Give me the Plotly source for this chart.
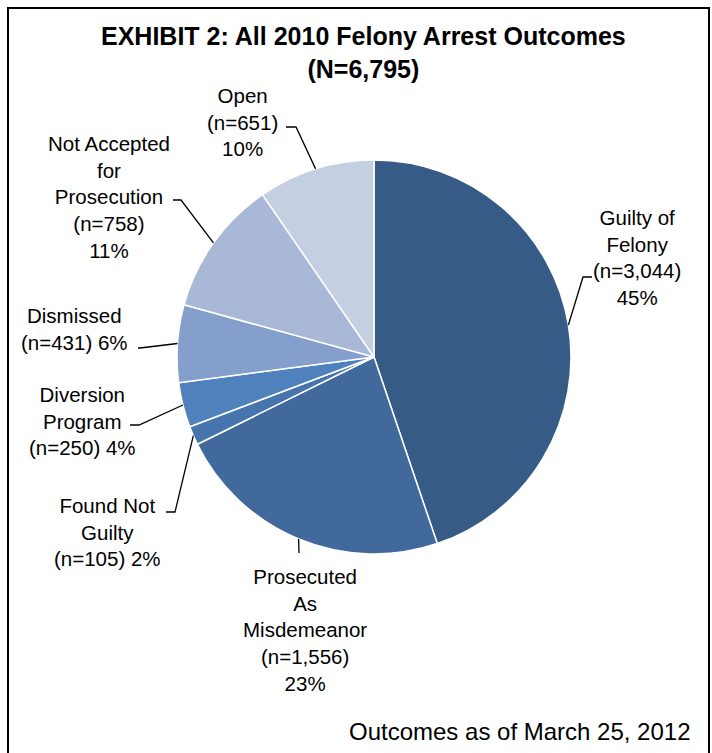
"""Exhibit 2: 2010 felony arrest outcomes pie."""

import math

import plotly.graph_objects as go

# data
outcomes = [
    "Guilty of Felony",
    "Prosecuted As Misdemeanor",
    "Found Not Guilty",
    "Diversion Program",
    "Dismissed",
    "Not Accepted for Prosecution",
    "Open",
]
counts = [3044, 1556, 105, 250, 431, 758, 651]
pct_labels = ["45%", "23%", "2%", "4%", "6%", "11%", "10%"]
label_text = [
    "Guilty of<br>Felony<br>(n=3,044)<br>45%",
    "Prosecuted<br>As<br>Misdemeanor<br>(n=1,556)<br>23%",
    "Found Not<br>Guilty<br>(n=105) 2%",
    "Diversion<br>Program<br>(n=250) 4%",
    "Dismissed<br>(n=431) 6%",
    "Not Accepted<br>for<br>Prosecution<br>(n=758)<br>11%",
    "Open<br>(n=651)<br>10%",
]
colors = ["#365B87", "#41699C", "#4674AC", "#4F81BD", "#849FCB", "#A9B8D6", "#C5CFE2"]

W, H = 712, 753
CX, CY, R = 374, 357, 197
FONT = "Liberation Sans, Arial, sans-serif"

# label placement (pixel): text center x, text top y, elbow point, end of leader
label_pos = [
    (637, 204, (583, 277), (592, 277)),
    (305, 563, (299, 553), (299, 553)),
    (107, 492, (175, 512), (166, 512)),
    (82, 381, (139, 425), (130, 425)),
    (74, 302, (140, 348), (138, 348)),
    (109, 130, (181, 200), (173, 200)),
    (243, 82, (296, 127), (286, 127)),
]


def px(x, y):
    return x / W, 1 - y / H


fig = go.Figure(
    go.Pie(
        labels=outcomes,
        values=counts,
        sort=False,
        direction="clockwise",
        rotation=0,
        marker=dict(colors=colors, line=dict(color="white", width=1.5)),
        textinfo="none",
        hoverinfo="label+value+percent",
        showlegend=False,
        domain=dict(
            x=[(CX - R) / W, (CX + R) / W],
            y=[1 - (CY + R) / H, 1 - (CY - R) / H],
        ),
    )
)

total = sum(counts)
cum = 0
annotations = []
shapes = []
for val, txt, (tx, ty, elbow, end) in zip(counts, label_text, label_pos):
    mid = (cum + val / 2) / total * 2 * math.pi
    cum += val
    sx = CX + R * math.sin(mid)
    sy = CY - R * math.cos(mid)
    pts = [px(sx, sy), px(*elbow), px(*end)]
    path = "M {} {} L {} {} L {} {}".format(*[c for p in pts for c in p])
    shapes.append(dict(type="path", xref="paper", yref="paper", path=path,
                       line=dict(color="black", width=1.3)))
    ax, ay = px(tx, ty)
    annotations.append(dict(x=ax, y=ay, xref="paper", yref="paper", text=txt,
                            showarrow=False, xanchor="center", yanchor="top",
                            align="center", font=dict(size=20.5, color="black", family=FONT)))

annotations.append(dict(x=px(363, 0)[0], y=px(0, 20)[1], xref="paper", yref="paper",
                        text="<b>EXHIBIT 2: All 2010 Felony Arrest Outcomes<br>(N=6,795)</b>",
                        showarrow=False, xanchor="center", yanchor="top", align="center",
                        font=dict(size=25, color="black", family=FONT)))
annotations.append(dict(x=px(693, 0)[0], y=px(0, 747)[1], xref="paper", yref="paper",
                        text="Outcomes as of March 25, 2012", showarrow=False,
                        xanchor="right", yanchor="bottom",
                        font=dict(size=24, color="black", family=FONT)))

# frame around the exhibit
shapes.append(dict(type="rect", xref="paper", yref="paper",
                   x0=8 / W, x1=709 / W, y0=-0.02, y1=1 - 8 / H,
                   line=dict(color="black", width=2)))

fig.update_layout(
    template="plotly_white",
    width=W,
    height=H,
    margin=dict(l=0, r=0, t=0, b=0),
    paper_bgcolor="white",
    annotations=annotations,
    shapes=shapes,
)

fig.write_html("out.html", config={"displayModeBar": False},
               post_script="document.body.style.margin='0';")
